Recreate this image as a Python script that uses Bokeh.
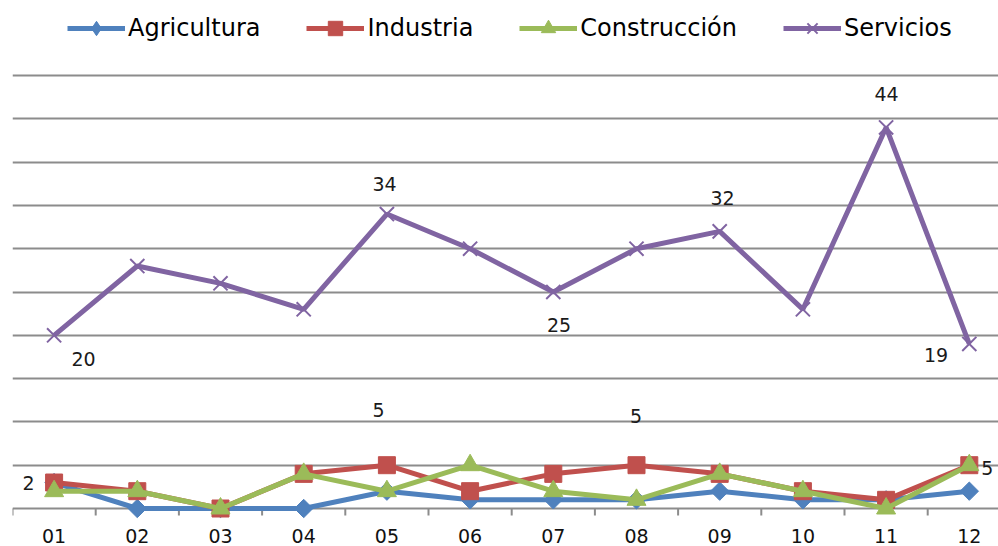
import math
from bokeh.plotting import figure
from bokeh.models import Range1d, FixedTicker, Span, Legend, LegendItem, Grid, ColumnDataSource
from bokeh.core.properties import value
from bokeh.embed import file_html
from bokeh.resources import INLINE

# ---------------- data ----------------
categories = ["01", "02", "03", "04", "05", "06", "07", "08", "09", "10", "11", "12"]
agricultura = [3, 0, 0, 0, 2, 1, 1, 1, 2, 1, 1, 2]
industria = [3, 2, 0, 4, 5, 2, 4, 5, 4, 2, 1, 5]
construccion = [2, 2, 0, 4, 2, 5, 2, 1, 4, 2, 0, 5]
servicios = [20, 28, 26, 23, 34, 30, 25, 30, 32, 23, 44, 19]
series_names = ["Agricultura", "Industria", "Construcción", "Servicios"]
y_ticks = [0, 5, 10, 15, 20, 25, 30, 35, 40, 45, 50]

# indices of the points that carry a data label, per series
label_idx_construccion = [0]
label_idx_industria = [4, 7, 11]
label_idx_servicios = [0, 4, 6, 8, 10, 11]

# ---------------- styles ----------------
BLUE, RED, GREEN, PURPLE = "#4F81BD", "#C0504D", "#9BBB59", "#8064A2"
GRID = "#8c8c8c"
FONT = "DejaVu Sans"

PX_PER_CAT = 83.2
PX_PER_UNIT = 8.66
FRAME_W = 986
FRAME_H = 518
BOTTOM_PAD_PX = 10   # space from the zero line to the frame bottom
xs = list(range(1, len(categories) + 1))

x_start = 0.5
x_end = x_start + FRAME_W / PX_PER_CAT
y_bottom = y_ticks[0] - BOTTOM_PAD_PX / PX_PER_UNIT
y_top = y_bottom + FRAME_H / PX_PER_UNIT

p = figure(frame_width=FRAME_W, frame_height=FRAME_H,
           x_range=Range1d(x_start, x_end), y_range=Range1d(y_bottom, y_top),
           output_backend="svg", toolbar_location=None, tools="",
           y_axis_location=None, min_border_left=12, min_border_right=0,
           min_border_top=0, min_border_bottom=28)
p.outline_line_color = None
p.background_fill_color = "white"
p.border_fill_color = "white"
p.xgrid.grid_line_color = None
p.ygrid.grid_line_color = None

p.add_layout(Grid(dimension=1, ticker=FixedTicker(ticks=y_ticks[1:]),
                  grid_line_color=GRID, grid_line_width=2))

ax = p.xaxis[0]
ax.ticker = FixedTicker(ticks=xs)
ax.major_label_overrides = {x: c for x, c in zip(xs, categories)}
ax.axis_line_color = None
ax.major_tick_line_color = None
ax.minor_tick_line_color = None
ax.major_tick_out = 0
ax.major_tick_in = 0
ax.major_label_standoff = 10
ax.major_label_text_line_height = 0.6
ax.major_label_text_font = FONT
ax.major_label_text_font_size = "19px"
ax.major_label_text_color = "#111111"

# baseline and category boundary ticks
p.add_layout(Span(location=y_ticks[0], dimension="width", line_color=GRID, line_width=2, level="underlay"))
bounds = [x - 0.5 for x in xs] + [xs[-1] + 0.5]
tick_len = 7 / PX_PER_UNIT
p.segment(x0=bounds, y0=[y_ticks[0]] * len(bounds), x1=bounds,
          y1=[y_ticks[0] - tick_len] * len(bounds), line_color=GRID, line_width=2)

series = [
    (agricultura, BLUE, dict(marker="square", size=13, angle=math.pi / 4), "diamond"),
    (industria, RED, dict(marker="square", size=17), None),
    (construccion, GREEN, dict(marker="triangle", size=19), None),
    (servicios, PURPLE, dict(marker="x", size=20, line_width=2), None),
]

renderers = []
for vals, col, mk, legend_marker in series:
    lr = p.line(xs, vals, line_color=col, line_width=5)
    sr = p.scatter(xs, vals, fill_color=col, line_color=col, **mk)
    if legend_marker:
        # hidden legend-only proxy (legend glyphs ignore the marker angle)
        proxy = p.scatter(xs, vals, marker=legend_marker, fill_color=col,
                          line_color=col, size=14, visible=False)
        renderers.append([lr, proxy])
    else:
        renderers.append([lr, sr])

# data labels
def add_labels(vals, idxs, dx, dy):
    src = ColumnDataSource(dict(x=[xs[i] for i in idxs], y=[vals[i] for i in idxs],
                                t=[str(vals[i]) for i in idxs], dx=dx, dy=dy))
    p.text(x="x", y="y", text="t", x_offset="dx", y_offset="dy", source=src,
           text_font=value(FONT), text_font_size="19px", text_color="#1a1a1a",
           text_align="center", text_baseline="middle")

add_labels(construccion, label_idx_construccion, [-25.6], [-8.2])
add_labels(industria, label_idx_industria, [-8.4, -0.5, 18], [-55, -49, 3])
add_labels(servicios, label_idx_servicios, [29.4, -2.4, 5.7, 2.8, 0.4, -33.3],
           [24, -29.6, 32.5, -33, -33, 11])

# legend inside the (tall) frame, at the top
legend = Legend(items=[LegendItem(label=n, renderers=r) for n, r in zip(series_names, renderers)],
                location=(55, FRAME_H - 46), orientation="horizontal",
                padding=0, margin=0, spacing=46, border_line_color=None,
                background_fill_alpha=0, inactive_fill_alpha=0,
                glyph_width=58, glyph_height=36,
                label_standoff=3, label_height=36,
                label_text_font=FONT, label_text_font_size="24px",
                label_text_color="#000000")
p.add_layout(legend)

open("out.html", "w").write(file_html(p, INLINE))
